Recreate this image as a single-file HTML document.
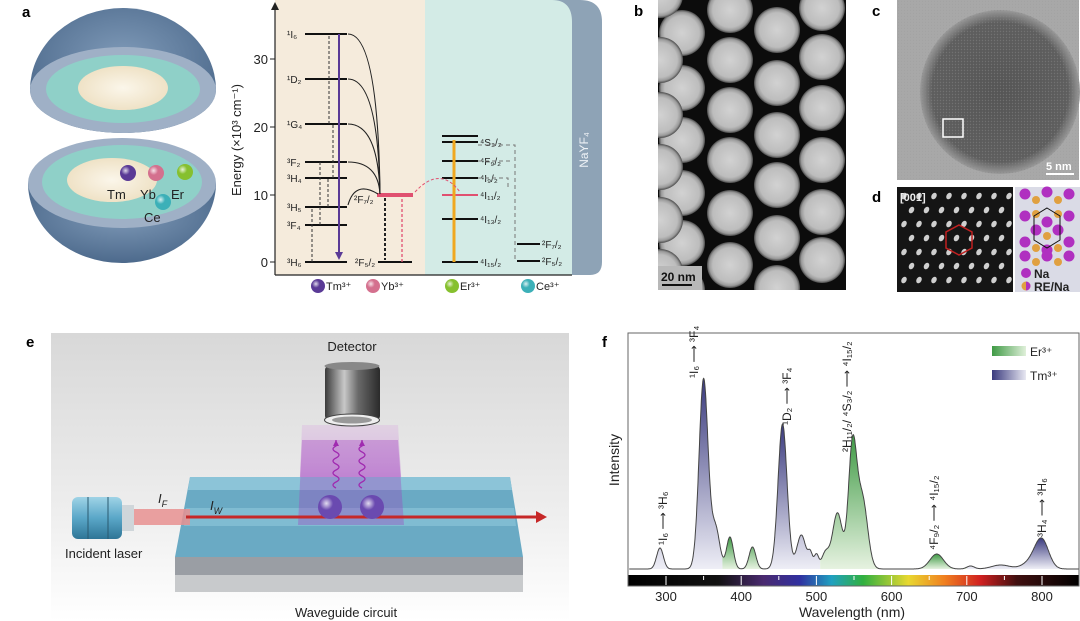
<!DOCTYPE html>
<html><head><meta charset="utf-8">
<style>
html,body{margin:0;padding:0;background:#fff;}
svg{display:block;font-family:"Liberation Sans",sans-serif;}
</style></head>
<body>
<svg id="s" width="1080" height="621" viewBox="0 0 1080 621" xmlns="http://www.w3.org/2000/svg">
<defs>
 <radialGradient id="ball" cx="35%" cy="35%" r="70%"><stop offset="0" stop-color="#fff" stop-opacity=".8"/><stop offset=".4" stop-color="#fff" stop-opacity="0"/></radialGradient>
 <radialGradient id="npg" cx="50%" cy="50%" r="50%"><stop offset="0" stop-color="#d2d2d2"/><stop offset=".75" stop-color="#bdbdbd"/><stop offset=".9" stop-color="#9a9a9a"/><stop offset="1" stop-color="#4a4a4a"/></radialGradient>
 <linearGradient id="tm" x1="0" y1="0" x2="0" y2="1"><stop offset="0" stop-color="#3a3a7e"/><stop offset="1" stop-color="#eeeef6"/></linearGradient>
 <linearGradient id="er" x1="0" y1="0" x2="0" y2="1"><stop offset="0" stop-color="#3f9a45"/><stop offset="1" stop-color="#e6f2e0"/></linearGradient>
 <linearGradient id="tmL" x1="0" y1="0" x2="1" y2="0"><stop offset="0" stop-color="#3a3a7e"/><stop offset="1" stop-color="#e8e8f2"/></linearGradient>
 <linearGradient id="erL" x1="0" y1="0" x2="1" y2="0"><stop offset="0" stop-color="#3f9a45"/><stop offset="1" stop-color="#e0f0da"/></linearGradient>
 <linearGradient id="spec" x1="628" y1="0" x2="1080" y2="0" gradientUnits="userSpaceOnUse">
  <stop offset="0" stop-color="#000"/><stop offset=".2" stop-color="#111"/><stop offset=".3" stop-color="#4a2a70"/>
  <stop offset=".38" stop-color="#3030a0"/><stop offset=".45" stop-color="#20a0c0"/><stop offset=".52" stop-color="#30b040"/>
  <stop offset=".62" stop-color="#e8d830"/><stop offset=".7" stop-color="#f08020"/><stop offset=".78" stop-color="#d02020"/>
  <stop offset=".86" stop-color="#401010"/><stop offset="1" stop-color="#000"/></linearGradient>
 <linearGradient id="bge" x1="0" y1="0" x2="0" y2="1"><stop offset="0" stop-color="#d8d8d8"/><stop offset=".6" stop-color="#ededed"/><stop offset="1" stop-color="#fff"/></linearGradient>
 <linearGradient id="cone" x1="0" y1="0" x2="0" y2="1"><stop offset="0" stop-color="#d9a8e0" stop-opacity=".3"/><stop offset="1" stop-color="#a040c0" stop-opacity=".75"/></linearGradient>
 <linearGradient id="cyl" x1="0" y1="0" x2="1" y2="0"><stop offset="0" stop-color="#3a3a3a"/><stop offset=".35" stop-color="#c8c8c8"/><stop offset=".6" stop-color="#6a6a6a"/><stop offset="1" stop-color="#2a2a2a"/></linearGradient>
 <linearGradient id="las" x1="0" y1="0" x2="0" y2="1"><stop offset="0" stop-color="#9fd3e6"/><stop offset=".5" stop-color="#5aa7c8"/><stop offset="1" stop-color="#2f7596"/></linearGradient>
 <radialGradient id="dome" cx="50%" cy="40%" r="60%"><stop offset="0" stop-color="#7f9ab8"/><stop offset="1" stop-color="#4d6a8c"/></radialGradient>
 <radialGradient id="core" cx="50%" cy="50%" r="50%"><stop offset="0" stop-color="#fbf6ea"/><stop offset="1" stop-color="#efe2c6"/></radialGradient>
 <radialGradient id="cdark" cx="50%" cy="50%" r="50%"><stop offset="0" stop-color="#555"/><stop offset=".85" stop-color="#5e5e5e"/><stop offset="1" stop-color="#9a9a9a"/></radialGradient>
 <pattern id="lat" width="3" height="3" patternUnits="userSpaceOnUse"><rect width="3" height="3" fill="none"/><circle cx="1.5" cy="1.5" r=".7" fill="#888" opacity=".5"/></pattern>
</defs>

<!-- Panel a: sphere -->
<text x="22" y="17" font-size="15" font-weight="bold">a</text>
<path d="M30,90 A93,82 0 0 1 216,90 A93,43 0 0 1 30,90 Z" fill="url(#dome)"/>
<ellipse cx="123" cy="90" rx="93" ry="43" fill="#9fb0c6"/>
<ellipse cx="123" cy="89" rx="77" ry="34" fill="#8fd0c8"/>
<ellipse cx="123" cy="88" rx="45" ry="22" fill="url(#core)"/>
<path d="M28,183 A94,80 0 0 0 216,183 Z" fill="url(#dome)"/>
<ellipse cx="122" cy="183" rx="94" ry="45" fill="#9fb0c6"/>
<ellipse cx="122" cy="182" rx="80" ry="37" fill="#8fd0c8"/>
<ellipse cx="112" cy="180" rx="45" ry="22" fill="url(#core)"/>
<g>
 <circle cx="128" cy="173" r="8" fill="#5a3a96"/><circle cx="128" cy="173" r="8" fill="url(#ball)"/>
 <circle cx="156" cy="173" r="8" fill="#d4708e"/><circle cx="156" cy="173" r="8" fill="url(#ball)"/>
 <circle cx="185" cy="172" r="8" fill="#86c02e"/><circle cx="185" cy="172" r="8" fill="url(#ball)"/>
 <circle cx="163" cy="202" r="8" fill="#3cb0b8"/><circle cx="163" cy="202" r="8" fill="url(#ball)"/>
</g>
<g font-size="13" fill="#222">
 <text x="107" y="199">Tm</text><text x="140" y="199">Yb</text><text x="171" y="199">Er</text><text x="144" y="222">Ce</text>
</g>

<!-- Panel a: energy diagram -->
<path d="M275,0 H425 V275 H275 Z" fill="#f5ebdc"/>
<path d="M425,0 H580 Q602,0 602,22 V262 Q602,275 590,275 H425 Z" fill="#8ea3b6"/>
<path d="M425,0 H552 Q572,0 572,22 V275 H425 Z" fill="#d3ebe6"/>
<text transform="translate(588,150) rotate(-90)" font-size="12" fill="#eef2f6" text-anchor="middle">NaYF₄</text>
<line x1="275" y1="4" x2="275" y2="275" stroke="#222" stroke-width="1.2"/>
<path d="M271,10 L275,2 L279,10 Z" fill="#222"/>
<line x1="275" y1="275" x2="572" y2="275" stroke="#222" stroke-width="1.2"/>
<g stroke="#222"><line x1="270" y1="262" x2="275" y2="262"/><line x1="270" y1="195" x2="275" y2="195"/><line x1="270" y1="127" x2="275" y2="127"/><line x1="270" y1="59" x2="275" y2="59"/></g>
<g font-size="13" text-anchor="end" fill="#222"><text x="268" y="267">0</text><text x="268" y="200">10</text><text x="268" y="132">20</text><text x="268" y="64">30</text></g>
<text transform="translate(241,140) rotate(-90)" font-size="13" text-anchor="middle" fill="#222">Energy (×10³ cm⁻¹)</text>
<g id="levels" stroke="#111" stroke-width="2"></g>
<g id="elabels" font-size="10" fill="#222"></g>
<g id="arrows" fill="none"></g>
<g font-size="11" fill="#222">
 <circle cx="318" cy="286" r="7" fill="#5a3a96"/><circle cx="318" cy="286" r="7" fill="url(#ball)"/><text x="326" y="290">Tm³⁺</text>
 <circle cx="373" cy="286" r="7" fill="#d4708e"/><circle cx="373" cy="286" r="7" fill="url(#ball)"/><text x="381" y="290">Yb³⁺</text>
 <circle cx="452" cy="286" r="7" fill="#86c02e"/><circle cx="452" cy="286" r="7" fill="url(#ball)"/><text x="460" y="290">Er³⁺</text>
 <circle cx="528" cy="286" r="7" fill="#3cb0b8"/><circle cx="528" cy="286" r="7" fill="url(#ball)"/><text x="536" y="290">Ce³⁺</text>
</g>

<!-- Panel b -->
<text x="634" y="16" font-size="15" font-weight="bold">b</text>
<rect x="658" y="0" width="188" height="290" fill="#0c0c0c"/>
<clipPath id="cb"><rect x="658" y="0" width="188" height="290"/></clipPath>
<g id="np" clip-path="url(#cb)"></g>
<rect x="658" y="266" width="44" height="24" fill="#b8b8b8"/>
<text x="661" y="281" font-size="12" font-weight="bold" fill="#111">20 nm</text>
<rect x="662" y="284" width="30" height="2" fill="#111"/>

<!-- Panel c -->
<text x="872" y="16" font-size="15" font-weight="bold">c</text>
<rect x="897" y="0" width="182" height="180" fill="#a8a8a8"/>
<rect x="897" y="0" width="182" height="180" fill="url(#lat)" opacity=".3"/>
<ellipse cx="1000" cy="92" rx="80" ry="82" fill="url(#cdark)"/>
<ellipse cx="1000" cy="92" rx="80" ry="82" fill="url(#lat)"/>
<rect x="943" y="119" width="20" height="18" fill="none" stroke="#fff" stroke-width="1.5"/>
<text x="1046" y="170" font-size="11" font-weight="bold" fill="#fff">5 nm</text>
<rect x="1046" y="173" width="28" height="2" fill="#fff"/>

<!-- Panel d -->
<text x="872" y="202" font-size="15" font-weight="bold">d</text>
<rect x="897" y="187" width="116" height="105" fill="#151515"/>
<g id="dl"></g>
<polygon points="959,225 972,232 972,248 959,255 946,248 946,232" fill="none" stroke="#c02020" stroke-width="1.5"/>
<text x="900" y="201" font-size="11" font-weight="bold" fill="#eee">[001]</text>
<rect x="1015" y="187" width="65" height="105" fill="#dadbe6"/>
<g id="na"></g>
<polygon points="1047,208 1060,216 1060,240 1047,248 1034,240 1034,216" fill="none" stroke="#111" stroke-width="1"/>
<circle cx="1026" cy="273" r="5" fill="#b030c0"/><text x="1034" y="278" font-size="12" font-weight="bold" fill="#222">Na</text>
<circle cx="1026" cy="286" r="4.5" fill="#e0a040"/><path d="M1026,281.5 A4.5,4.5 0 0 1 1026,290.5 Z" fill="#b030c0"/><text x="1034" y="291" font-size="12" font-weight="bold" fill="#222">RE/Na</text>

<!-- Panel e -->
<text x="26" y="347" font-size="15" font-weight="bold">e</text>
<rect x="51" y="333" width="518" height="288" fill="url(#bge)"/>
<text x="352" y="351" font-size="13" text-anchor="middle" fill="#222">Detector</text>
<polygon points="302,425 398,425 404,525 298,525" fill="url(#cone)"/>
<rect x="325" y="366" width="55" height="54" rx="4" fill="url(#cyl)"/>
<ellipse cx="352" cy="366" rx="27.5" ry="4" fill="#888"/>
<ellipse cx="352" cy="420" rx="27.5" ry="6" fill="#eee" stroke="#444"/>
<ellipse cx="352" cy="420" rx="20" ry="3.5" fill="#999"/>
<polygon points="175,557 523,557 523,592 175,592" fill="#9a9ea4"/>
<polygon points="175,575 523,575 523,592 175,592" fill="#c8cacc"/>
<polygon points="190,477 510,477 523,557 175,557" fill="#6aaac4"/>
<polygon points="190,477 510,477 512,490 188,490" fill="#8cc4d8"/>
<polygon points="186,508 514,508 516,526 184,526" fill="#80bcd2"/>
<polygon points="302,440 398,440 404,525 298,525" fill="#a040c0" opacity=".35"/>
<path d="M336,488 q-6,-3 0,-6 q6,-3 0,-6 q-6,-3 0,-6 q6,-3 0,-6 q-6,-3 0,-6 q6,-3 0,-6 q-6,-3 0,-6 l0,-6" fill="none" stroke="#a02ab0" stroke-width="1.3"/>
<path d="M362,488 q-6,-3 0,-6 q6,-3 0,-6 q-6,-3 0,-6 q6,-3 0,-6 q-6,-3 0,-6 q6,-3 0,-6 q-6,-3 0,-6 l0,-6" fill="none" stroke="#a02ab0" stroke-width="1.3"/>
<path d="M333,446 l3,-6 l3,6 Z M359,446 l3,-6 l3,6 Z" fill="#a02ab0"/>
<rect x="72" y="497" width="50" height="42" rx="6" fill="url(#las)"/>
<line x1="88" y1="497" x2="88" y2="539" stroke="#2a5a70"/><line x1="108" y1="497" x2="108" y2="539" stroke="#2a5a70"/>
<rect x="122" y="505" width="12" height="26" fill="#cfd6da"/>
<rect x="134" y="509" width="56" height="16" fill="#e89090" opacity=".85"/>
<line x1="186" y1="517" x2="538" y2="517" stroke="#c62828" stroke-width="3"/>
<path d="M536,511 L547,517 L536,523 Z" fill="#c62828"/>
<circle cx="330" cy="507" r="12" fill="#6a4ab0"/><circle cx="330" cy="507" r="12" fill="url(#ball)"/>
<circle cx="372" cy="507" r="12" fill="#6a4ab0"/><circle cx="372" cy="507" r="12" fill="url(#ball)"/>
<text x="158" y="503" font-size="13" font-style="italic" fill="#222">I<tspan font-size="9" dy="4">F</tspan></text>
<text x="210" y="510" font-size="13" font-style="italic" fill="#222">I<tspan font-size="9" dy="4">W</tspan></text>
<text x="65" y="558" font-size="13" fill="#222">Incident laser</text>
<text x="346" y="617" font-size="13" text-anchor="middle" fill="#222">Waveguide circuit</text>

<!-- Panel f -->
<text x="602" y="347" font-size="15" font-weight="bold">f</text>
<g id="specfill"></g>
<path id="specline" fill="none" stroke="#444" stroke-width="1"/>
<rect x="628" y="575" width="451" height="11" fill="url(#spec)"/>
<g id="cticks"></g>
<rect x="628" y="333" width="451" height="253" fill="none" stroke="#666" stroke-width="1"/>
<g font-size="13" fill="#222" text-anchor="middle" id="xlab"></g>
<text x="852" y="617" font-size="14" text-anchor="middle" fill="#222">Wavelength (nm)</text>
<text transform="translate(619,460) rotate(-90)" font-size="14" text-anchor="middle" fill="#222">Intensity</text>
<rect x="992" y="346" width="34" height="10" fill="url(#erL)"/><text x="1030" y="356" font-size="12" fill="#222">Er³⁺</text>
<rect x="992" y="370" width="34" height="10" fill="url(#tmL)"/><text x="1030" y="380" font-size="12" fill="#222">Tm³⁺</text>
<g font-size="12" fill="#222" id="flab"></g>
</svg>
<script>
var NS="http://www.w3.org/2000/svg";
function el(p,t,a,txt){var e=document.createElementNS(NS,t);for(var k in a)e.setAttribute(k,a[k]);if(txt!=null)e.textContent=txt;document.getElementById(p).appendChild(e);return e;}
var L=[[305,347,34,"¹I₆"],[305,347,79,"¹D₂"],[305,347,124,"¹G₄"],[305,347,162,"³F₂"],[305,347,178,"³H₄"],[305,347,207,"³H₅"],[305,347,225,"³F₄"],[305,347,262,"³H₆"],
[378,412,262,"²F₅/₂"],[442,478,136,""],[442,478,142,"⁴S₃/₂"],[442,478,161,"⁴F₉/₂"],[442,478,178,"⁴I₉/₂"],[442,478,219,"⁴I₁₃/₂"],[442,478,262,"⁴I₁₅/₂"],[517,540,244,"²F₇/₂"],[517,540,261,"²F₅/₂"]];
L.forEach(function(l,i){el("levels","line",{x1:l[0],y1:l[2],x2:l[1],y2:l[2]});
 if(!l[3])return; if(i<8)el("elabels","text",{x:287,y:l[2]+4},l[3]);
 else if(i==8)el("elabels","text",{x:355,y:l[2]+4},l[3]); else el("elabels","text",{x:l[1]+2,y:l[2]+4},l[3]);});
el("levels","line",{x1:377,y1:195,x2:413,y2:195,stroke:"#e05070","stroke-width":4});
el("levels","line",{x1:442,y1:195,x2:478,y2:195,stroke:"#e05070","stroke-width":2});
el("elabels","text",{x:354,y:203},"²F₇/₂");el("elabels","text",{x:480,y:199},"⁴I₁₁/₂");
[34,79,124,162].forEach(function(y){el("arrows","path",{d:"M380,194 Q378,"+y+" 348,"+y,stroke:"#222","stroke-width":1.1});});
el("arrows","path",{d:"M378,194 Q355,180 348,205",stroke:"#222","stroke-width":1.1});
el("arrows","line",{x1:339,y1:34,x2:339,y2:258,stroke:"#5a3a96","stroke-width":2});
el("arrows","path",{d:"M335,252 L339,260 L343,252Z",fill:"#5a3a96"});
[[312,262,207],[320,225,162],[328,207,178],[333,178,124],[329,124,34]].forEach(function(a){el("arrows","line",{x1:a[0],y1:a[1],x2:a[0],y2:a[2],stroke:"#333","stroke-dasharray":"3,2"});});
el("arrows","line",{x1:385,y1:198,x2:385,y2:260,stroke:"#222","stroke-width":2,"stroke-dasharray":"3,2"});
el("arrows","line",{x1:402,y1:262,x2:402,y2:198,stroke:"#e05070","stroke-width":1.3,"stroke-dasharray":"3,2"});
el("arrows","line",{x1:454,y1:197,x2:454,y2:260,stroke:"#e05070","stroke-width":1.3,"stroke-dasharray":"3,2"});
el("arrows","line",{x1:454,y1:262,x2:454,y2:140,stroke:"#f0a820","stroke-width":3});
el("arrows","path",{d:"M415,192 Q440,165 460,192",stroke:"#e05070","stroke-dasharray":"3,2"});
el("arrows","path",{d:"M478,145 H515 V260 M478,161 H512 M478,178 H508 V190",stroke:"#777","stroke-dasharray":"4,3"});
var cols=[[682,[33,88,140,193,243,290]],[730,[10,60,110,160,213,265]],[777,[30,83,135,185,238,288]],[822,[8,57,108,160,212,260]],[660,[-5,60,115,167,220,272]]];
cols.forEach(function(c){c[1].forEach(function(y){el("np","circle",{cx:c[0],cy:y,r:23,fill:"url(#npg)"});});});
for(var r=0;r<7;r++)for(var q=0;q<8;q++){var x=904+q*15+(r%2)*7.5,y=196+r*14;if(x<1011)el("dl","ellipse",{cx:x,cy:y,rx:2.5,ry:3.5,fill:"#cfcfcf",transform:"rotate(30 "+x+" "+y+")"});}
[[1025,194],[1047,192],[1069,194],[1025,216],[1047,222],[1069,216],[1036,230],[1058,230],[1025,242],[1069,242],[1047,250],[1025,256],[1047,256],[1069,256]].forEach(function(p){el("na","circle",{cx:p[0],cy:p[1],r:5.5,fill:"#b030c0"});});
[[1036,200],[1058,200],[1036,214],[1058,214],[1047,236],[1036,248],[1058,248],[1036,262],[1058,262]].forEach(function(p){el("na","circle",{cx:p[0],cy:p[1],r:4,fill:"#e0a040"});});
var P=[[292,21,4.5],[350,190,6],[366,40,5.5],[385,32,4.5],[415,22,4.5],[455,145,6],[480,34,6],[492,14,3],[500,14,3],[512,16,5],[528,56,6.5],[548,120,5.5],[561,70,7],[660,15,9],[705,3,5],[745,4,12],[800,26,9],[788,8,12]];
function I(w){var s=0;P.forEach(function(p){s+=p[1]*Math.exp(-Math.pow((w-p[0])/p[2],2)/2);});return s;}
function X(w){return 666+(w-300)*0.752;}
var d="";for(var w=251;w<=849;w+=0.5){d+=(w==251?"M":"L")+X(w).toFixed(1)+","+(569-I(w)).toFixed(1);}
document.getElementById("specline").setAttribute("d",d);
var R=[[251,375,"tm"],[375,432,"er"],[432,505,"tm"],[505,610,"er"],[610,700,"er"],[700,849,"tm"]];
R.forEach(function(r){var s="M"+X(r[0]).toFixed(1)+",569";for(var w=r[0];w<=r[1];w+=0.5)s+="L"+X(w).toFixed(1)+","+(569-I(w)).toFixed(1);s+="L"+X(r[1]).toFixed(1)+",569Z";el("specfill","path",{d:s,fill:"url(#"+r[2]+")"});});
for(var t=300;t<=800;t+=50){el("cticks","line",{x1:X(t),y1:576,x2:X(t),y2:t%100?580:585,stroke:"#fff","stroke-width":1});
 if(t%100==0)el("xlab","text",{x:X(t),y:601},t);}
function rl(x,y,s){el("flab","text",{transform:"translate("+x+","+y+") rotate(-90)"},s);}
rl(667,545,"¹I₆ ⟶ ³H₆");rl(698,378,"¹I₆ ⟶ ³F₄");rl(791,425,"¹D₂ ⟶ ³F₄");rl(851,452,"²H₁₁/₂/ ⁴S₃/₂ ⟶ ⁴I₁₅/₂");rl(938,550,"⁴F₉/₂ ⟶ ⁴I₁₅/₂");rl(1046,537,"³H₄ ⟶ ³H₆");
</script>
</body></html>
